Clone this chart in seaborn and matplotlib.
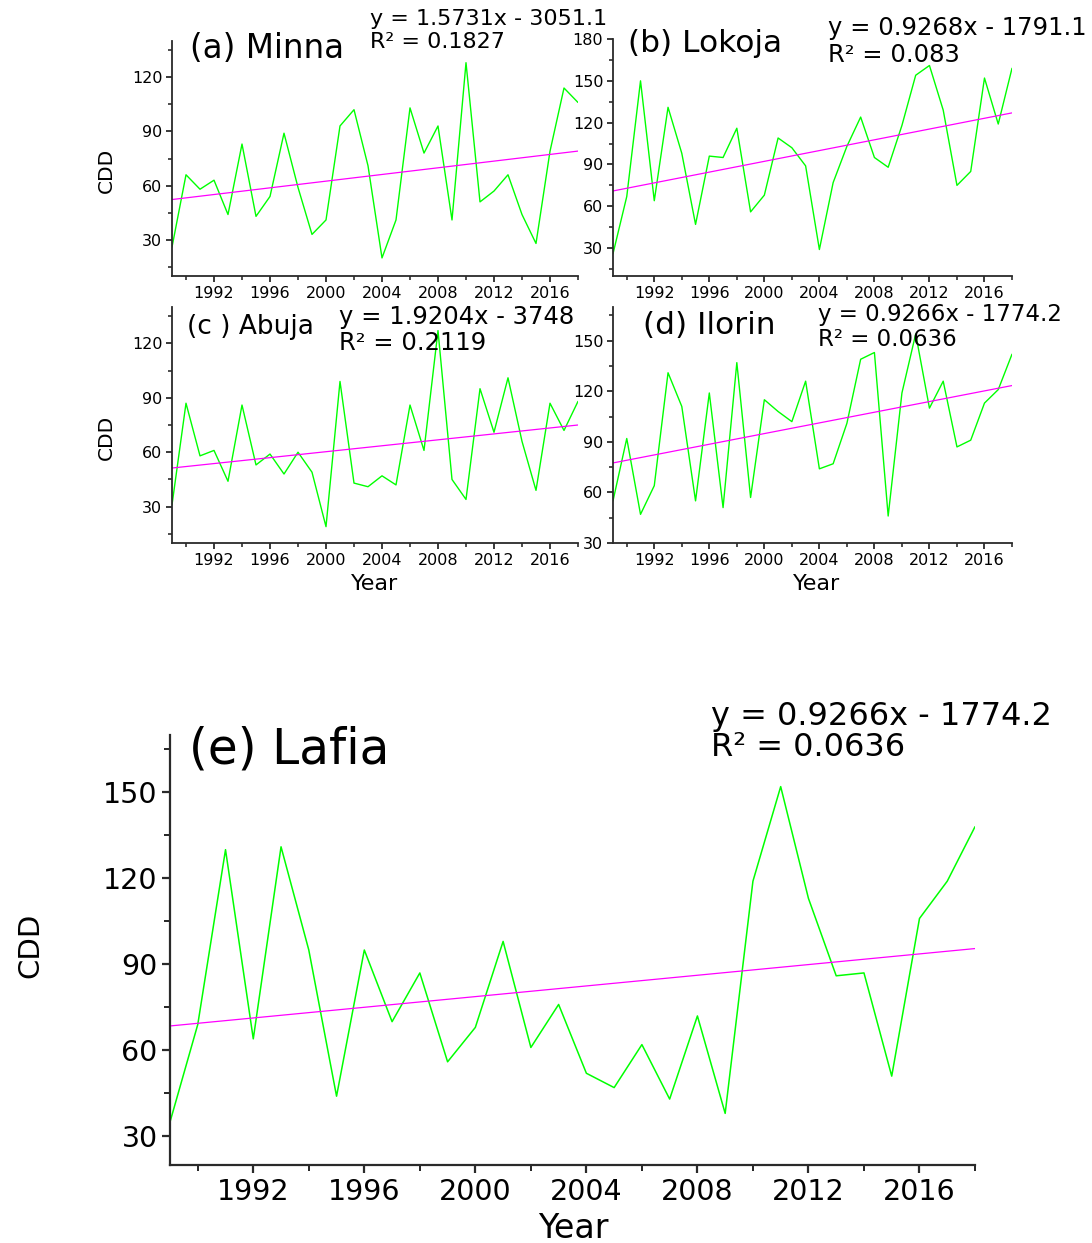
import matplotlib
matplotlib.use("Agg")
import matplotlib.pyplot as plt
import seaborn as sns
from matplotlib.ticker import MultipleLocator

# ---------------- data ----------------
years = list(range(1989, 2019))
minna = [26, 66, 58, 63, 44, 83, 43, 54, 89, 59, 33, 41, 93, 102, 71,
         20, 41, 103, 78, 93, 41, 128, 51, 57, 66, 44, 28, 79, 114, 106]
lokoja = [26, 67, 150, 64, 131, 98, 47, 96, 95, 116, 56, 68, 109, 102, 89,
          29, 77, 103, 124, 95, 88, 118, 154, 161, 129, 75, 85, 152, 119, 159]
abuja = [31, 87, 58, 61, 44, 86, 53, 59, 48, 60, 49, 19, 99, 43, 41,
         47, 42, 86, 61, 127, 45, 34, 95, 71, 101, 66, 39, 87, 72, 88]
ilorin = [55, 92, 47, 64, 131, 111, 55, 119, 51, 137, 57, 115, 108, 102, 126,
          74, 77, 101, 139, 143, 46, 119, 154, 110, 126, 87, 91, 113, 121, 142]
lafia = [35, 69, 130, 64, 131, 95, 44, 95, 70, 87, 56, 68, 98, 61, 76,
         52, 47, 62, 43, 72, 38, 119, 152, 113, 86, 87, 51, 106, 119, 138]

trend_years = [1989, 2018]
trend_minna = [52.3, 79.1]
trend_lokoja = [71.0, 127.0]
trend_abuja = [51.3, 75.0]
trend_ilorin = [77.5, 123.4]
trend_lafia = [68.5, 95.5]

titles = ["(a) Minna", "(b) Lokoja", "(c ) Abuja", "(d) Ilorin", "(e) Lafia"]
equations = ["y = 1.5731x - 3051.1", "y = 0.9268x - 1791.1",
             "y = 1.9204x - 3748", "y = 0.9266x - 1774.2",
             "y = 0.9266x - 1774.2"]
r2_texts = ["R\u00b2 = 0.1827", "R\u00b2 = 0.083", "R\u00b2 = 0.2119",
            "R\u00b2 = 0.0636", "R\u00b2 = 0.0636"]

# ---------------- style ----------------
sns.set_theme(style="ticks")
plt.rcParams['font.family'] = ['DejaVu Sans']

W, H = 1092, 1243
fig = plt.figure(figsize=(W / 100, H / 100), dpi=100)
SP = '#2a2a2a'


def px(x, y):
    return x / W, 1 - y / H


def make_ax(l, r, t, b):
    return fig.add_axes([l / W, 1 - b / H, (r - l) / W, (b - t) / H])


panels = [
    dict(vals=minna, trend=trend_minna, box=(172, 578, 41, 276), ylim=(10, 140),
         tick=11.5, big=False),
    dict(vals=lokoja, trend=trend_lokoja, box=(613, 1012, 39, 276), ylim=(10, 180),
         tick=11.5, big=False),
    dict(vals=abuja, trend=trend_abuja, box=(172, 578, 307, 543), ylim=(10, 140),
         tick=11.5, big=False),
    dict(vals=ilorin, trend=trend_ilorin, box=(613, 1012, 307, 543), ylim=(30, 170),
         tick=11.5, big=False),
    dict(vals=lafia, trend=trend_lafia, box=(170, 975, 735, 1165), ylim=(20, 170),
         tick=20.5, big=True),
]

axes = []
for p in panels:
    ax = make_ax(*p['box'])
    sns.lineplot(x=years, y=p['vals'], ax=ax, color='#00ff00',
                 linewidth=1.0 if not p['big'] else 1.1)
    sns.lineplot(x=trend_years, y=p['trend'], ax=ax, color='#ff00ff',
                 linewidth=0.9)
    ax.set_xlim(1989, 2018)
    ax.set_ylim(*p['ylim'])
    ax.xaxis.set_major_locator(MultipleLocator(4))
    ax.xaxis.set_minor_locator(MultipleLocator(2))
    ax.yaxis.set_major_locator(MultipleLocator(30))
    ax.yaxis.set_minor_locator(MultipleLocator(15))
    sns.despine(ax=ax)
    lw = 1.6 if p['big'] else 1.3
    for s in ['left', 'bottom']:
        ax.spines[s].set_color(SP)
        ax.spines[s].set_linewidth(lw)
    maj = 6 if p['big'] else 4
    ax.tick_params(axis='both', which='major', direction='out', length=maj,
                   width=lw, color=SP, labelsize=p['tick'], labelcolor='black',
                   pad=3)
    ax.tick_params(axis='both', which='minor', direction='out', length=maj * 0.7,
                   width=lw * 0.9, color=SP)
    ax.set_xlabel('')
    ax.set_ylabel('')
    ax.set_facecolor('white')
    axes.append(ax)

# ---------------- texts ----------------
title_pos = [(190, 48), (628, 43), (187, 327), (643, 326), (189, 750)]
title_fs = [23.5, 22.5, 19, 22.5, 35]
eq_pos = [(370, 19, 42), (828, 28, 55), (339, 317, 343), (818, 315, 339),
          (711, 717, 748)]
eq_fs = [16, 17.5, 17.5, 16.5, 23]
for i in range(5):
    fig.text(*px(*title_pos[i]), titles[i], ha='left', va='center',
             fontsize=title_fs[i], color='black')
    x, y1, y2 = eq_pos[i]
    fig.text(*px(x, y1), equations[i], ha='left', va='center',
             fontsize=eq_fs[i], color='black')
    fig.text(*px(x, y2), r2_texts[i], ha='left', va='center',
             fontsize=eq_fs[i], color='black')

# axis labels
for (x, y) in [(106, 170), (106, 437)]:
    fig.text(*px(x, y), 'CDD', rotation=90, ha='center', va='center',
             fontsize=14.5, color='black')
fig.text(*px(30, 945), 'CDD', rotation=90, ha='center', va='center',
         fontsize=21, color='black')
for (x, y) in [(375, 584), (817, 584)]:
    fig.text(*px(x, y), 'Year', ha='center', va='center', fontsize=16,
             color='black')
fig.text(*px(573, 1228), 'Year', ha='center', va='center', fontsize=24,
         color='black')

fig.savefig('out.png', dpi=100, facecolor='white')
